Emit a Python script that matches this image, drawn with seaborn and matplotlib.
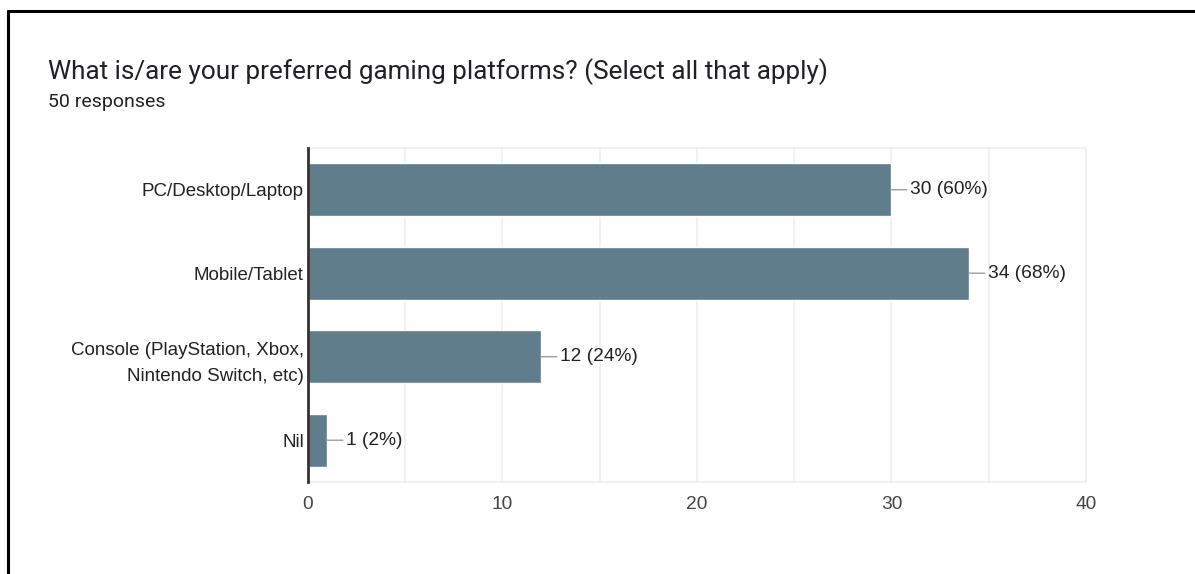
import matplotlib
matplotlib.use("Agg")
import matplotlib.pyplot as plt
from matplotlib.lines import Line2D
import seaborn as sns
import pandas as pd

# Survey data
categories = ["PC/Desktop/Laptop", "Mobile/Tablet",
              "Console (PlayStation, Xbox,\nNintendo Switch, etc)", "Nil"]
counts = [30, 34, 12, 1]
percents = [60, 68, 24, 2]
x_ticks = [0, 10, 20, 30, 40]
title = "What is/are your preferred gaming platforms? (Select all that apply)"
subtitle = "50 responses"

sns.set_theme(style="white")
plt.rcParams["font.family"] = ["Liberation Sans", "DejaVu Sans"]

df = pd.DataFrame({"platform": categories, "count": counts})

fig = plt.figure(figsize=(11.95, 5.74), dpi=100)
ax = fig.add_axes([0.2577, 0.1603, 0.6511, 0.5819])

sns.barplot(data=df, x="count", y="platform", orient="h", color="#607d8b",
            saturation=1, width=0.63, ax=ax, zorder=3)

ax.set_xlim(0, 40)
ax.set_ylim(3.5, -0.5)
ax.set_xticks(x_ticks)
ax.set_xticks(range(0, 41, 5), minor=True)
ax.grid(axis="x", which="both", color="#eeeeee", lw=1.1, zorder=0)
ax.set_xlabel("")
ax.set_ylabel("")
ax.tick_params(axis="x", which="both", length=0, labelsize=13.8, colors="#444444", pad=10)
ax.tick_params(axis="y", length=0, labelsize=13.5, labelcolor="#222222", pad=3)
for lbl in ax.get_yticklabels():
    lbl.set_linespacing(1.7)

for name, sp in ax.spines.items():
    sp.set_visible(True)
    sp.set_color("#eeeeee")
    sp.set_linewidth(1.1)
ax.spines["left"].set_color("#333333")
ax.spines["left"].set_linewidth(2)
ax.spines["left"].set_zorder(4)

for i, (c, p) in enumerate(zip(counts, percents)):
    ax.annotate(f"{c} ({p}%)", xy=(c, i), xytext=(13.5, 0), textcoords="offset points",
                ha="left", va="center", fontsize=13.8, color="#222222",
                arrowprops=dict(arrowstyle="-", color="#9e9e9e", lw=1,
                                shrinkA=0, shrinkB=0), zorder=5)

fig.text(48 / 1195, 1 - 72 / 574, title, fontsize=18.8, color="#202124",
         family=["Roboto", "DejaVu Sans"], va="center", ha="left")
fig.text(48 / 1195, 1 - 102 / 574, subtitle, fontsize=14, color="#202124",
         family=["Roboto", "DejaVu Sans"], va="center", ha="left")

# Frame edges along the top and left of the canvas
fig.add_artist(Line2D([7.5 / 1195, 1.01], [1 - 10.5 / 574, 1 - 10.5 / 574],
                      transform=fig.transFigure, color="black", lw=2.2))
fig.add_artist(Line2D([7.5 / 1195, 7.5 / 1195], [-0.01, 1 - 10.5 / 574],
                      transform=fig.transFigure, color="black", lw=2.2))

fig.savefig("out.png", dpi=100)
